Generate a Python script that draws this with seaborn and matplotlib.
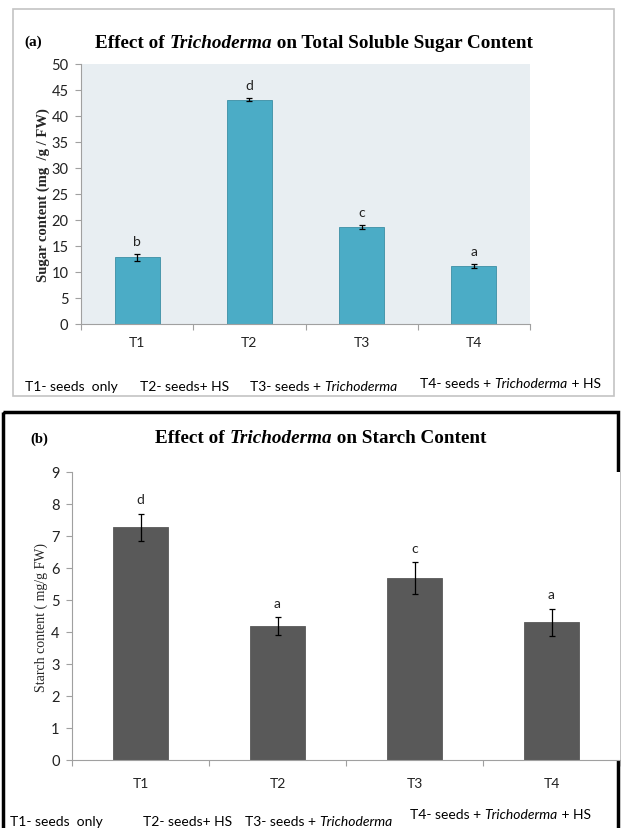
import matplotlib
matplotlib.use("Agg")
import matplotlib.pyplot as plt
import pandas as pd
import seaborn as sns
from matplotlib.patches import Rectangle

# ## Data

treatments = ["T1", "T2", "T3", "T4"]

sugar_mean = [12.8, 43.1, 18.6, 11.2]
sugar_err = [0.7, 0.3, 0.4, 0.4]
sugar_letters = ["b", "d", "c", "a"]

starch_mean = [7.27, 4.18, 5.69, 4.30]
starch_err = [0.43, 0.28, 0.50, 0.43]
starch_letters = ["d", "a", "c", "a"]

legend_parts = [
    [("T1- seeds  only", "normal")],
    [("T2- seeds+ HS", "normal")],
    [("T3- seeds + ", "normal"), ("Trichoderma", "italic")],
    [("T4- seeds + ", "normal"), ("Trichoderma", "italic"), (" + HS", "normal")],
]

W, H = 621, 829
SANS = "Lato"
SERIF = "Liberation Serif"

sns.set_theme(style="white")
plt.rcParams["font.family"] = [SANS, "DejaVu Sans"]

fig = plt.figure(figsize=(W / 100, H / 100), dpi=100)
overlay = fig.add_axes([0, 0, 1, 1])
overlay.set_xlim(0, W)
overlay.set_ylim(H, 0)
overlay.axis("off")
overlay.set_zorder(-1)


def rich(x, y, parts, size, family, weight="normal", color="black"):
    # draw text pieces one after another, each anchored on the previous one
    prev = None
    for txt, style in parts:
        kw = dict(fontsize=size, family=family, weight=weight, style=style,
                  color=color, va="bottom", ha="left")
        if prev is None:
            prev = overlay.text(x, y, txt, **kw)
        else:
            prev = overlay.annotate(txt, xy=(1, 0), xycoords=prev, **kw)
    return prev


def axes_px(left, top, right, bottom):
    return fig.add_axes([left / W, 1 - bottom / H, (right - left) / W,
                         (bottom - top) / H])


def draw_panel(ax, means, errs, letters, color, edge, ymax, step, bg,
               letter_pad):
    df = pd.DataFrame({"treatment": treatments, "value": means})
    sns.barplot(data=df, x="treatment", y="value", color=color, width=0.4,
                saturation=1, edgecolor=edge, linewidth=0.6, ax=ax,
                errorbar=None)
    ax.errorbar(range(len(treatments)), means, yerr=errs, fmt="none",
                ecolor="black", elinewidth=0.9, capsize=2.5, capthick=0.9)
    for i, (m, e, lab) in enumerate(zip(means, errs, letters)):
        ax.annotate(lab, xy=(i, m + e), xytext=(0, letter_pad),
                    textcoords="offset points", ha="center", va="bottom",
                    fontsize=10, family=SANS, color="#222222")
    ax.set_xlim(-0.5, len(treatments) - 0.5)
    ax.set_ylim(0, ymax)
    ax.set_yticks(range(0, ymax + 1, step))
    ax.set_facecolor(bg)
    ax.set_xlabel("")
    for s in ["top", "right"]:
        ax.spines[s].set_visible(False)
    for s in ["left", "bottom"]:
        ax.spines[s].set_color("#a0a0a0")
        ax.spines[s].set_linewidth(0.8)
    ax.set_xticks([i - 0.5 for i in range(len(treatments) + 1)], minor=True)
    ax.tick_params(axis="x", which="major", length=0, pad=9,
                   labelsize=10, labelcolor="#222222")
    ax.tick_params(axis="x", which="minor", length=4, direction="out",
                   color="#a0a0a0", width=0.8, bottom=True)
    ax.tick_params(axis="y", length=4, direction="out", color="#a0a0a0",
                   width=0.8, left=True, labelsize=10.5, labelcolor="#222222",
                   pad=5)


# ## Panel (a): sugar

overlay.add_patch(Rectangle((13, 10), 601, 387, fill=False, ec="#c4c4c4",
                            lw=1.2))
rich(24, 49, [("(a)", "normal")], 11, SERIF, "bold")
rich(95, 52, [("Effect of ", "normal"), ("Trichoderma", "italic"),
              (" on Total Soluble Sugar Content", "normal")],
     13.8, SERIF, "bold")

ax1 = axes_px(81, 65, 530, 325)
draw_panel(ax1, sugar_mean, sugar_err, sugar_letters, "#4bacc6", "#3b8ea5",
           50, 5, "#e8eef2", 5)
ax1.set_ylabel("Sugar content (mg  /g / FW)", family=SERIF, weight="bold",
               fontsize=10.5, labelpad=1)

x_leg_a = [25, 140, 250, 420]
y_leg_a = [393, 393, 393, 390]
for x, y, parts in zip(x_leg_a, y_leg_a, legend_parts):
    rich(x, y, parts, 10, SANS)

# ## Panel (b): starch

overlay.add_patch(Rectangle((3, 413), 615, 440, fill=False, ec="black",
                            lw=2.5))
rich(30, 446, [("(b)", "normal")], 10.5, SERIF, "bold")
rich(155, 447, [("Effect of ", "normal"), ("Trichoderma", "italic"),
                (" on Starch Content", "normal")], 13.8, SERIF, "bold")

ax2 = axes_px(72, 473, 620, 761)
draw_panel(ax2, starch_mean, starch_err, starch_letters, "#595959",
           "#595959", 9, 1, "white", 6)
ax2.set_ylabel("Starch content ( mg/g FW)", family=SERIF, fontsize=10,
               labelpad=2)
ax2.tick_params(axis="x", which="major", pad=12)

x_leg_b = [10, 143, 245, 410]
y_leg_b = [828, 828, 828, 821]
for x, y, parts in zip(x_leg_b, y_leg_b, legend_parts):
    rich(x, y, parts, 10, SANS)

fig.savefig("out.png", dpi=100)
